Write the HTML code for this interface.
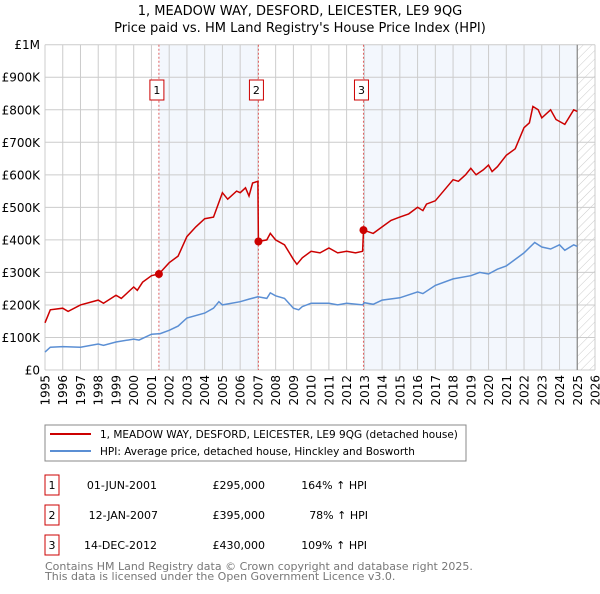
<!DOCTYPE html>
<html><head><meta charset="utf-8"><style>
body{margin:0;background:#fff;font-family:"DejaVu Sans","Liberation Sans",sans-serif;}
svg text{font-family:"DejaVu Sans","Liberation Sans",sans-serif;}
</style></head><body>
<svg id="chart" width="600" height="590" viewBox="0 0 600 590" xmlns="http://www.w3.org/2000/svg">
<defs><pattern id="hatch" width="6" height="6" patternUnits="userSpaceOnUse" patternTransform="rotate(45)"><line x1="0" y1="0" x2="0" y2="6" stroke="#ccc" stroke-width="1"/></pattern></defs>
<text x="300" y="15" text-anchor="middle" font-size="13" fill="#000">1, MEADOW WAY, DESFORD, LEICESTER, LE9 9QG</text>
<text x="300" y="32" text-anchor="middle" font-size="13" fill="#000">Price paid vs. HM Land Registry's House Price Index (HPI)</text>
<g id="bg"></g><g id="grid"></g><g id="lines"></g><g id="marks"></g><g id="axes"></g>
<rect x="45" y="425" width="421" height="36" fill="#fff" stroke="#888"/>
<line x1="50" y1="434" x2="91" y2="434" stroke="#cc0000" stroke-width="2"/>
<text x="100" y="438" font-size="10.5">1, MEADOW WAY, DESFORD, LEICESTER, LE9 9QG (detached house)</text>
<line x1="50" y1="451" x2="91" y2="451" stroke="#5b8fd4" stroke-width="2"/>
<text x="100" y="455" font-size="10.5">HPI: Average price, detached house, Hinckley and Bosworth</text>
<g font-size="11">
<rect x="45" y="475" width="14" height="20" fill="#fff" stroke="#cc0000"/><text x="52" y="489" text-anchor="middle">1</text>
<text x="157" y="489" text-anchor="end">01-JUN-2001</text><text x="265" y="489" text-anchor="end">£295,000</text><text x="367" y="489" text-anchor="end">164% ↑ HPI</text>
<rect x="45" y="505" width="14" height="20" fill="#fff" stroke="#cc0000"/><text x="52" y="519" text-anchor="middle">2</text>
<text x="158" y="519" text-anchor="end">12-JAN-2007</text><text x="265" y="519" text-anchor="end">£395,000</text><text x="368" y="519" text-anchor="end">78% ↑ HPI</text>
<rect x="45" y="535" width="14" height="20" fill="#fff" stroke="#cc0000"/><text x="52" y="549" text-anchor="middle">3</text>
<text x="157" y="549" text-anchor="end">14-DEC-2012</text><text x="265" y="549" text-anchor="end">£430,000</text><text x="367" y="549" text-anchor="end">109% ↑ HPI</text>
</g>
<text x="45" y="570" font-size="11" fill="#777">Contains HM Land Registry data © Crown copyright and database right 2025.</text>
<text x="45" y="580" font-size="11" fill="#777">This data is licensed under the Open Government Licence v3.0.</text>
</svg>
<script>
const hpiYears=[1995,1995.3,1996,1997,1998,1998.3,1999,2000,2000.3,2001,2001.5,2002,2002.5,2003,2004,2004.5,2004.8,2005,2006,2006.5,2007,2007.5,2007.7,2008,2008.5,2009,2009.3,2009.5,2010,2011,2011.5,2012,2012.9,2013,2013.5,2014,2015,2016,2016.3,2017,2018,2019,2019.5,2020,2020.5,2021,2021.5,2022,2022.6,2023,2023.5,2024,2024.3,2024.8,2025];
const hpiValues=[55,70,72,70,80,76,86,95,92,110,112,122,135,160,175,190,210,200,210,218,225,220,237,228,220,190,185,195,205,205,200,205,200,207,202,215,222,240,235,260,280,290,300,295,310,320,340,360,392,378,372,385,368,385,380];
const ppYears=[1995,1995.3,1996,1996.3,1997,1998,1998.3,1999,1999.3,2000,2000.2,2000.5,2001,2001.42,2002,2002.5,2003,2003.5,2004,2004.5,2005,2005.3,2005.8,2006,2006.3,2006.5,2006.7,2007,2007.03,2007.5,2007.7,2008,2008.5,2009,2009.2,2009.5,2010,2010.5,2011,2011.5,2012,2012.5,2012.9,2012.95,2013.5,2014,2014.5,2015,2015.5,2016,2016.3,2016.5,2017,2018,2018.3,2018.7,2019,2019.3,2019.7,2020,2020.2,2020.5,2021,2021.5,2022,2022.3,2022.5,2022.8,2023,2023.5,2023.8,2024.3,2024.8,2025];
const ppValues=[145,185,190,180,200,215,205,230,220,255,245,270,290,295,330,350,410,440,465,470,545,525,550,545,560,535,575,580,395,400,420,400,385,340,325,345,365,360,375,360,365,360,365,430,420,440,460,470,480,500,490,510,520,585,580,600,620,600,615,630,610,625,660,680,745,760,810,800,775,800,770,755,800,795];
const saleYears=[2001.42,2007.03,2012.95];
const saleValues=[295,395,430];
const saleLabels=["1","2","3"];
const yTicks=[0,100,200,300,400,500,600,700,800,900,1000];
const yTickLabels=["£0","£100K","£200K","£300K","£400K","£500K","£600K","£700K","£800K","£900K","£1M"];
const xTicks=[1995,1996,1997,1998,1999,2000,2001,2002,2003,2004,2005,2006,2007,2008,2009,2010,2011,2012,2013,2014,2015,2016,2017,2018,2019,2020,2021,2022,2023,2024,2025,2026];
const X0=45,X1=595,Y0=370,Y1=44.7,NOW=2025.0;
const xs=y=>X0+(y-1995)/(2026-1995)*(X1-X0);
const ys=v=>Y0-(v/1000)*(Y0-Y1);
const NS="http://www.w3.org/2000/svg";
function mk(tag,attrs,parent){const e=document.createElementNS(NS,tag);for(const k in attrs)e.setAttribute(k,attrs[k]);document.getElementById(parent).appendChild(e);return e;}
let r=mk('rect',{x:xs(saleYears[0]),y:Y1,width:xs(saleYears[1])-xs(saleYears[0]),height:Y0-Y1,fill:'#eef3fc',opacity:0.7},'bg');


r=mk('rect',{x:xs(saleYears[2]),y:Y1,width:xs(NOW)-xs(saleYears[2]),height:Y0-Y1,fill:'#eef3fc',opacity:0.7},'bg');


r=mk('rect',{x:xs(NOW),y:Y1,width:X1-xs(NOW),height:Y0-Y1,fill:'url(#hatch)'},'bg');


yTicks.forEach((t,i)=>{
 const l=mk('line',{x1:X0,x2:X1,y1:ys(t),y2:ys(t),stroke:'#ccc'},'grid');
 
 
 const tx=mk('text',{x:X0-5,y:ys(t)+4.5,'text-anchor':'end','font-size':12},'axes');
 tx.textContent=yTickLabels[i];
 
 
});
xTicks.forEach(t=>{
 const l=mk('line',{x1:xs(t),x2:xs(t),y1:Y1,y2:Y0,stroke:'#ccc'},'grid');
 
 
 const tx=mk('text',{x:0,y:0,'font-size':12,'text-anchor':'end',transform:`translate(${xs(t)+4.5},${Y0+5}) rotate(-90)`},'axes');
 tx.textContent=t;
 
 
});
const nl=mk('line',{x1:xs(NOW),x2:xs(NOW),y1:Y1,y2:Y0,stroke:'#888','stroke-width':1.2},'grid');


saleYears.forEach((y,i)=>{
 const l=mk('line',{x1:xs(y),x2:xs(y),y1:Y1,y2:Y0,stroke:'#e06060','stroke-dasharray':'2,2'},'grid');
 
 
});
const pts=(a,b)=>a.map((y,i)=>xs(y).toFixed(1)+','+ys(b[i]).toFixed(1)).join(' ');
let p=mk('polyline',{points:pts(hpiYears,hpiValues),fill:'none',stroke:'#5b8fd4','stroke-width':1.5},'lines');


p=mk('polyline',{points:pts(ppYears,ppValues),fill:'none',stroke:'#cc0000','stroke-width':1.5},'lines');


saleYears.forEach((y,i)=>{
 const c=mk('circle',{cx:xs(y),cy:ys(saleValues[i]),r:4,fill:'#cc0000'},'marks');
 
 
 const b=mk('rect',{x:xs(y)-9,y:80,width:14,height:20,fill:'#fff',stroke:'#cc0000'},'marks');
 
 
 const t=mk('text',{x:xs(y)-2,y:94,'text-anchor':'middle','font-size':11},'marks');
 t.textContent=saleLabels[i];
 
 
});
</script>
</body></html>
